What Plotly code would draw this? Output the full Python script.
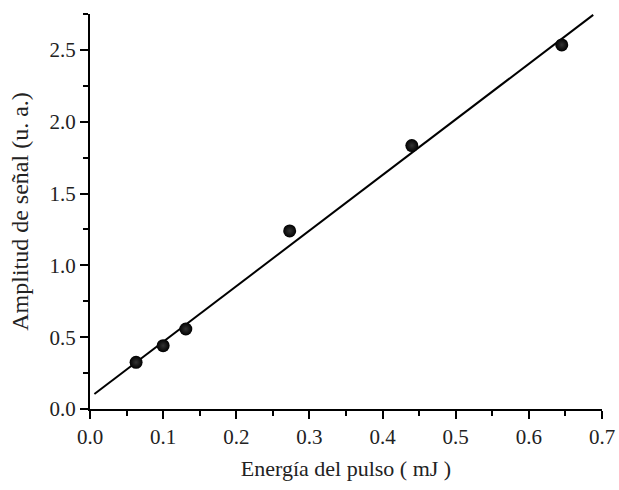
import plotly.graph_objects as go

energy = [0.063, 0.100, 0.131, 0.273, 0.440, 0.645]
amplitude = [0.325, 0.441, 0.557, 1.240, 1.834, 2.535]
fit_x = [0.006, 0.688]
fit_y = [0.104, 2.744]

font_family = "Liberation Serif"

fig = go.Figure()
fig.add_trace(go.Scatter(x=fit_x, y=fit_y, mode="lines",
                         line=dict(color="black", width=2), showlegend=False))
fig.add_trace(go.Scatter(x=energy, y=amplitude, mode="markers",
                         marker=dict(color="black", size=13, line=dict(width=0),
                                     gradient=dict(type="radial", color="#333333")),
                         showlegend=False))

axis_common = dict(showline=True, linecolor="black", linewidth=2, mirror=False,
                   showgrid=False, zeroline=False, ticks="outside", tickcolor="black",
                   tickwidth=2, ticklen=8, automargin=False,
                   tickfont=dict(family=font_family, size=21, color="#222"))

fig.update_xaxes(range=[0, 0.7], dtick=0.1, tickformat=".1f",
                 title=dict(text="Energía del pulso ( mJ )", standoff=12,
                            font=dict(family=font_family, size=22, color="#222")),
                 minor=dict(ticks="outside", dtick=0.05, ticklen=5, tickwidth=2, tickcolor="black"),
                 **axis_common)
fig.update_yaxes(range=[0, 2.75], dtick=0.5, tickformat=".1f",
                 title=dict(text="Amplitud de señal (u. a.)", standoff=14,
                            font=dict(family=font_family, size=24, color="#222")),
                 minor=dict(ticks="outside", dtick=0.25, ticklen=5, tickwidth=2, tickcolor="black"),
                 **axis_common)

fig.update_layout(width=619, height=490,
                  margin=dict(l=90, r=17, t=14, b=81, autoexpand=False),
                  plot_bgcolor="white", paper_bgcolor="white",
                  font=dict(family=font_family, color="#222"))

fig.write_html("out.html")
